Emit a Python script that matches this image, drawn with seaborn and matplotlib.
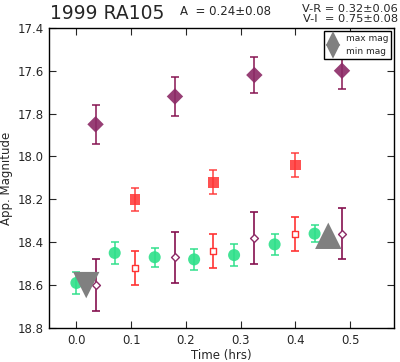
import matplotlib
matplotlib.use('Agg')
import matplotlib.pyplot as plt
import seaborn as sns
import pandas as pd

# --- datos ---
t_V = [0.035, 0.180, 0.325, 0.485]
mag_V = [17.85, 17.72, 17.62, 17.60]
err_V = [0.09, 0.09, 0.085, 0.085]

t_R = [0.107, 0.250, 0.400]
mag_R = [18.20, 18.12, 18.04]
err_R = [0.055, 0.055, 0.055]

t_G = [0.000, 0.070, 0.143, 0.215, 0.288, 0.362, 0.435]
mag_G = [18.59, 18.45, 18.47, 18.48, 18.46, 18.41, 18.36]
err_G = [0.05, 0.05, 0.045, 0.05, 0.05, 0.05, 0.04]

t_Ro = [0.107, 0.250, 0.400]
mag_Ro = [18.52, 18.44, 18.36]
err_Ro = [0.08, 0.08, 0.08]

t_Vo = [0.035, 0.180, 0.325, 0.485]
mag_Vo = [18.60, 18.47, 18.38, 18.36]
err_Vo = [0.12, 0.12, 0.12, 0.12]

t_max, mag_max = [0.460], [18.37]
t_min, mag_min = [0.018], [18.60]

sns.set_style("ticks")
plt.rcParams['font.family'] = ['DejaVu Sans']

fig, ax = plt.subplots(figsize=(4.0, 3.62), dpi=100)
fig.subplots_adjust(left=0.1225, right=0.985, top=0.923, bottom=0.094)

verde = "#2ee08a"
rojo = "#ff3333"
morado = "#8c2a66"
morado_barra = "#85104f"

def serie(t, m, e, marker, color, ecol, size, fill=True, alpha=1.0):
    ax.errorbar(t, m, yerr=e, fmt="none", ecolor=ecol, elinewidth=1.2,
                capsize=3, capthick=1.2, alpha=alpha, zorder=2)
    df = pd.DataFrame({"t": t, "m": m})
    if fill:
        sns.scatterplot(data=df, x="t", y="m", marker=marker, color=color,
                        s=size, edgecolor="none", alpha=alpha, ax=ax, zorder=3)
    else:
        sns.scatterplot(data=df, x="t", y="m", marker=marker, facecolor="white",
                        edgecolor=color, linewidth=1.0, s=size, ax=ax, zorder=3)

serie(t_V, mag_V, err_V, "D", morado, morado_barra, 70, alpha=0.9)
serie(t_R, mag_R, err_R, "s", rojo, rojo, 60, alpha=0.85)
serie(t_G, mag_G, err_G, "o", verde, verde, 75, alpha=0.9)
serie(t_Ro, mag_Ro, err_Ro, "s", rojo, rojo, 20, fill=False)
serie(t_Vo, mag_Vo, err_Vo, "D", morado, morado_barra, 16, fill=False)

sns.scatterplot(x=t_max, y=mag_max, marker="^", color="gray", s=360,
                edgecolor="none", ax=ax, zorder=4, label="max mag")
sns.scatterplot(x=t_min, y=mag_min, marker="v", color="gray", s=360,
                edgecolor="none", ax=ax, zorder=4, label="min mag")

ax.set_xlim(-0.05, 0.58)
ax.set_ylim(18.8, 17.4)
ax.set_xticks([0.0, 0.1, 0.2, 0.3, 0.4, 0.5])
ax.set_yticks([17.4, 17.6, 17.8, 18.0, 18.2, 18.4, 18.6, 18.8])
ax.tick_params(direction="in", top=True, right=True, length=5, labelsize=8.5, pad=4)
for s in ax.spines.values():
    s.set_linewidth(1.0)
    s.set_color("black")
ax.set_xlabel("Time (hrs)", fontsize=8.5, labelpad=2)
ax.set_ylabel("App. Magnitude", fontsize=8.5, labelpad=3)

leg = ax.legend(loc="upper right", fontsize=6.5, markerscale=0.55, handletextpad=0.8,
                borderpad=0.35, labelspacing=0.45, handlelength=1.2,
                fancybox=False, edgecolor="black", framealpha=1,
                borderaxespad=0.3)
leg.get_frame().set_linewidth(1.0)

fig.text(0.125, 0.937, "1999 RA105", fontsize=13.5, ha="left", va="bottom")
fig.text(0.45, 0.95, "A  = 0.24\u00b10.08", fontsize=8.5, ha="left", va="bottom")
fig.text(0.995, 0.935, "V-R = 0.32\u00b10.06\nV-I  = 0.75\u00b10.08", fontsize=8.2,
         ha="right", va="bottom", linespacing=0.95)

fig.savefig("out.png", dpi=100)
